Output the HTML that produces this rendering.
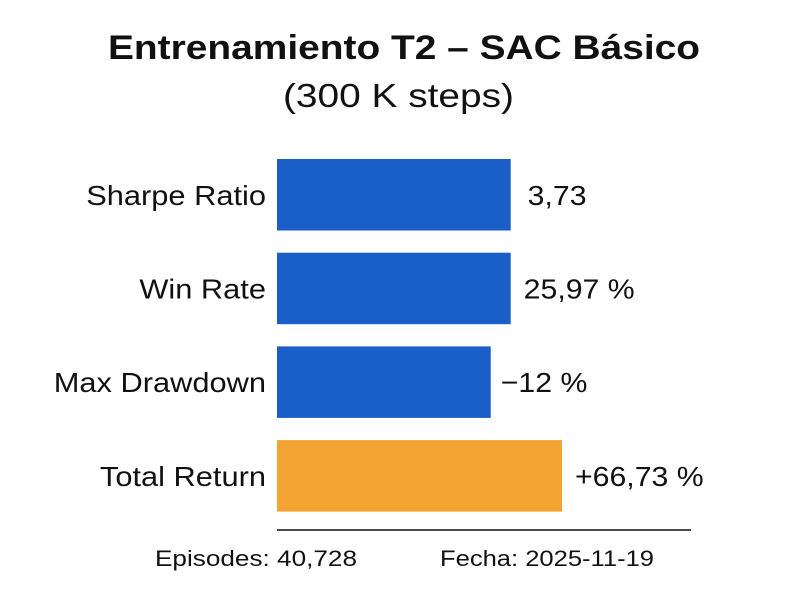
<!DOCTYPE html>
<html><head><meta charset="utf-8"><style>
body{margin:0;background:#fff;}
svg text{font-family:"Liberation Sans",sans-serif;fill:#111;}
</style></head><body>
<svg id="c" width="800" height="600">
<text x="108" y="59" font-size="34" font-weight="bold" textLength="592" lengthAdjust="spacingAndGlyphs">Entrenamiento T2 – SAC Básico</text>
<text x="283" y="107" font-size="33" textLength="231" lengthAdjust="spacingAndGlyphs">(300 K steps)</text>
<line x1="277" y1="530" x2="691" y2="530" stroke="#111" stroke-width="1.5"/>
<text x="155" y="566" font-size="22" textLength="202" lengthAdjust="spacingAndGlyphs">Episodes:  40,728</text>
<text x="440" y="566" font-size="22" textLength="214" lengthAdjust="spacingAndGlyphs">Fecha: 2025-11-19</text>
</svg>
<script>
const categories=["Sharpe Ratio","Win Rate","Max Drawdown","Total Return"];
const scores=[82,82,75,100];
const valueLabels=["3,73","25,97 %","−12 %","+66,73 %"];
const colors=["#1a5fc8","#1a5fc8","#1a5fc8","#f3a432"];
const svg=document.getElementById('c');
const NS="http://www.w3.org/2000/svg";
const x0=277, xw=285;
function xs(v){return x0+v/100*xw;}
function ys(i){return 159+i*93.7;}
const bh=71.5;
const charW=15.4, valW=15.6;
categories.forEach((cat,i)=>{
  const r=document.createElementNS(NS,'rect');
  r.setAttribute('x',x0);r.setAttribute('y',ys(i));
  r.setAttribute('width',xs(scores[i])-x0);r.setAttribute('height',bh);
  r.setAttribute('fill',colors[i]);
  
  
  svg.appendChild(r);
  const t=document.createElementNS(NS,'text');
  t.setAttribute('x',266);t.setAttribute('y',ys(i)+bh/2+10);
  t.setAttribute('text-anchor','end');t.setAttribute('font-size','28');
  t.textContent=cat;
  
  
  svg.appendChild(t);
  const w=t.getComputedTextLength();
  t.setAttribute('textLength',w*1.1);
  t.setAttribute('lengthAdjust','spacingAndGlyphs');
  const v=document.createElementNS(NS,'text');
  v.setAttribute('x',xs(scores[i])+(i===0?17:i===2?10:13));v.setAttribute('y',ys(i)+bh/2+10);
  v.setAttribute('font-size','28');
  v.textContent=valueLabels[i];
  
  
  svg.appendChild(v);
  const vw=v.getComputedTextLength();
  v.setAttribute('textLength',vw*1.08);
  v.setAttribute('lengthAdjust','spacingAndGlyphs');
});
</script>
</body></html>
